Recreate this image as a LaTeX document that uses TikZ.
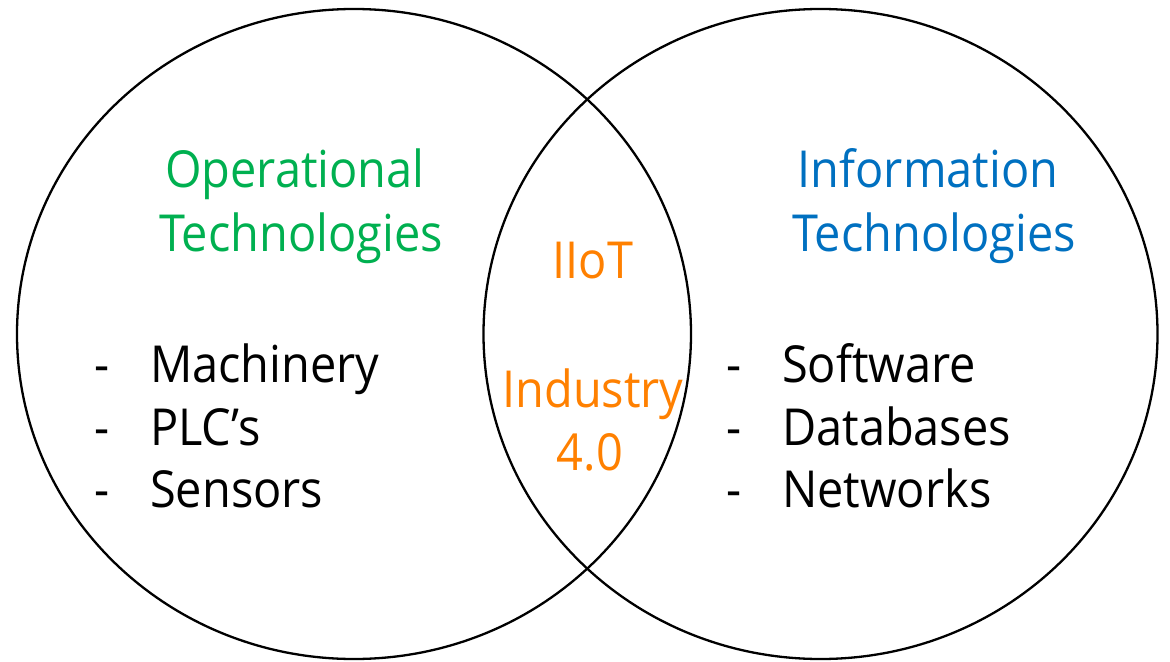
\documentclass[tikz,border=0pt]{standalone}
\usepackage{fontspec}
\setmainfont[FakeStretch=0.92]{Open Sans}
\definecolor{otgreen}{RGB}{0,176,80}
\definecolor{itblue}{RGB}{0,112,192}
\definecolor{iiotorange}{RGB}{255,128,0}
\begin{document}
\begin{tikzpicture}[x=1bp,y=-1bp,
  ring/.style={draw=black,line width=2.3bp},
  head/.style={anchor=base,inner sep=0pt,font=\fontsize{51bp}{61bp}\selectfont},
  mid/.style={anchor=base,inner sep=0pt,text=iiotorange,font=\fontsize{51bp}{61bp}\selectfont},
  item/.style={anchor=base west,inner sep=0pt,font=\fontsize{51bp}{61bp}\selectfont}]
\useasboundingbox (0,0) rectangle (1170,662);
\draw[ring] (354,334) ellipse [x radius=337bp, y radius=325bp];
\draw[ring] (820.5,334) ellipse [x radius=337bp, y radius=325bp];
% OT heading
\node[head,text=otgreen] (ot1) at (295,188) {Operational};
\node[head,text=otgreen] (ot2) at (301,251) {Technologies};
% IT heading
\node[head,text=itblue] (it1) at (928,188) {Information};
\node[head,text=itblue] (it2) at (934,251) {Technologies};
% middle
\node[mid] (m1) at (593,278) {IIoT};
\node[mid] (m2) at (593,407) {Industry};
\node[mid] (m3) at (590,470) {4.0};
% left list
\node[item] (ld1) at (94,382) {-};
\node[item] (ld2) at (94,445) {-};
\node[item] (ld3) at (94,507) {-};
\node[item] (l1) at (150,382) {Machinery};
\node[item] (l2) at (150,445) {PLC’s};
\node[item] (l3) at (150,507) {Sensors};
% right list
\node[item] (rd1) at (726,382) {-};
\node[item] (rd2) at (726,445) {-};
\node[item] (rd3) at (726,507) {-};
\node[item] (r1) at (782,382) {Software};
\node[item] (r2) at (782,445) {Databases};
\node[item] (r3) at (782,507) {Networks};
\end{tikzpicture}
\end{document}
